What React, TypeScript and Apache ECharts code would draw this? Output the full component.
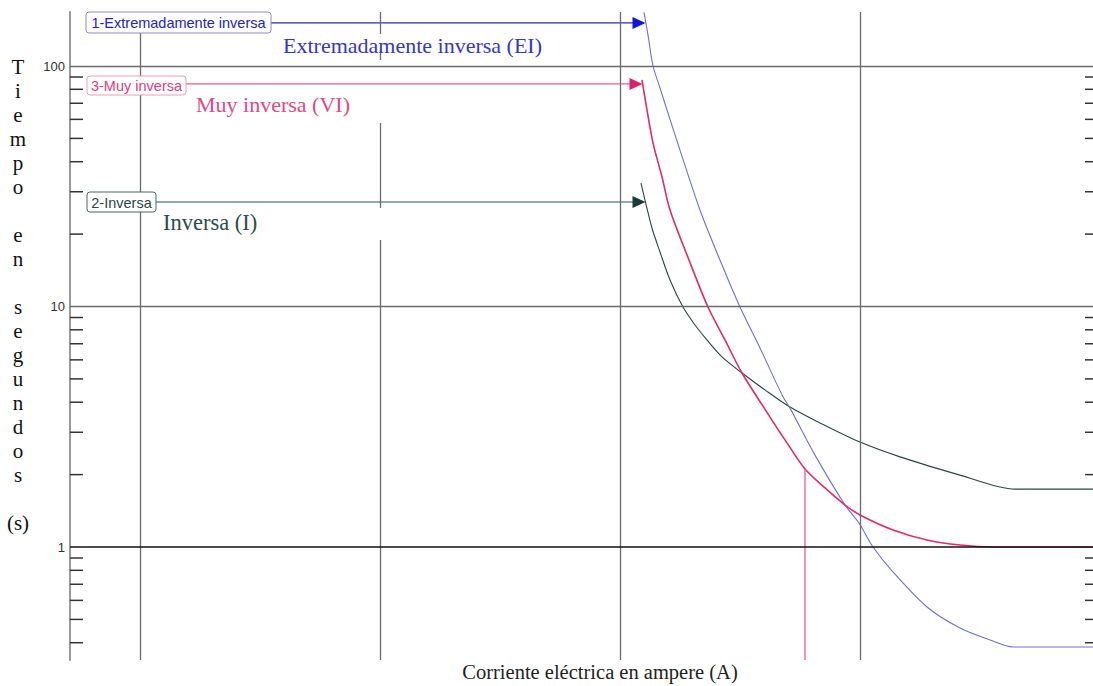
import React, { useEffect, useRef } from "react";
import * as echarts from "echarts";

// Axis extents (current in A, time in s), both logarithmic
const X_MIN = 5.11;
const X_MAX = 93500;
const Y_MIN = 0.339;
const Y_MAX = 167.7;

// Labelled decades on the time axis
const Y_LABELS = [1, 10, 100];
// Minor tick marks on both sides of the plot
const MINOR_TICKS = [0.4, 0.5, 0.6, 0.7, 0.8, 0.9, 2, 3, 4, 5, 6, 7, 8, 9, 20, 30, 40, 50, 60, 70, 80, 90];

// Decade gridlines
const GRID_X_FULL = [10, 1000, 10000];
const GRID_X_BROKEN = 100;
const GRID_X_BROKEN_SEGMENTS: [number, number][] = [
  [167.7, 135.8],
  [116.6, 105.9],
  [57.9, 25.7],
  [18.9, 0.339],
];
const GRID_Y_LIGHT = [10, 100];
const GRID_Y_DARK = 1;

// Curve 1 – extremadamente inversa (EI)
const EI_CURVE: [number, number][] = [
  [1259, 167], [1308, 134.6], [1373, 100], [1468, 81.0], [1570, 65.6],
  [1778, 44.7], [2154, 25.2], [2610, 15.6], [3162, 9.95], [3831, 6.72],
  [4777, 4.21], [5109, 3.78], [6494, 2.41], [8660, 1.495], [9904, 1.258],
  [11330, 1.0], [13730, 0.787], [19020, 0.563], [26100, 0.4604],
  [34810, 0.4106], [43400, 0.3838], [93500, 0.3838],
];

// Curve 3 – muy inversa (VI)
const VI_CURVE: [number, number][] = [
  [1235, 87.5], [1296, 65.6], [1373, 47.8], [1496, 34.6], [1616, 25.2],
  [1939, 15.6], [2326, 9.95], [2738, 7.26], [3224, 5.29], [4217, 3.47],
  [4963, 2.71], [5900, 2.11], [7149, 1.76], [8660, 1.495], [10000, 1.359],
  [13730, 1.177], [19020, 1.069], [26100, 1.019], [35830, 1.0], [93500, 1.0],
];

// Curve 2 – inversa (I)
const I_CURVE: [number, number][] = [
  [1223, 32.6], [1271, 27.7], [1359, 21.2], [1468, 16.85], [1616, 12.89],
  [1830, 9.95], [2054, 8.38], [2304, 7.26], [2661, 6.17], [3224, 5.29],
  [4019, 4.5], [5109, 3.82], [6813, 3.28], [10000, 2.73], [14680, 2.37],
  [26100, 1.99], [44240, 1.74], [93500, 1.74],
];

// Pickup marker on the VI curve
const VI_MARKER_X = 5900;
const VI_MARKER_T = 2.11;

// Legend arrows: [start current, end current, time]
const EI_ARROW = [35.1, 1200, 151];
const VI_ARROW = [15.55, 1166, 84.2];
const I_ARROW = [11.66, 1200, 27.2];

const C_EI = "#7070d2";
const C_VI = "#e02a6c";
const C_I = "#2c4444";

const SANS = '"Liberation Sans", Arial, sans-serif';
const SERIF = '"Liberation Serif", "Times New Roman", serif';

function arrowSeries(arrow: number[], lineColor: string, headColor: string) {
  return {
    type: "line",
    silent: true,
    z: 4,
    showSymbol: true,
    symbol: "none",
    lineStyle: { color: lineColor, width: 1.3 },
    data: [
      [arrow[0], arrow[2]],
      {
        value: [arrow[1], arrow[2]],
        symbol: "triangle",
        symbolSize: [12, 13],
        symbolRotate: -90,
        itemStyle: { color: headColor },
      },
    ],
  };
}

function curveSeries(name: string, data: [number, number][], color: string, width: number) {
  return {
    name,
    type: "line",
    silent: true,
    z: 3,
    showSymbol: false,
    symbol: "none",
    smooth: 0.3,
    lineStyle: { color, width },
    data,
  };
}

function legendBox(x: number, y: number, w: number, h: number, text: string, color: string, border: string) {
  return {
    type: "group",
    z: 100,
    children: [
      {
        type: "rect",
        shape: { x, y, width: w, height: h, r: 3 },
        style: { fill: "#ffffff", stroke: border, lineWidth: 1 },
        z: 100,
      },
      {
        type: "text",
        x: x + w / 2,
        y: y + h / 2 + 0.5,
        z: 101,
        style: { text, fill: color, font: `14.5px ${SANS}`, align: "center", verticalAlign: "middle" },
      },
    ],
  };
}

export default function App() {
  const ref = useRef<HTMLDivElement>(null);

  useEffect(() => {
    if (!ref.current) return;
    const chart = echarts.init(ref.current, null, { renderer: "svg" });

    const gridLine = { color: "#6a6a6a", width: 1.3, type: "solid" };

    chart.setOption({
      animation: false,
      backgroundColor: "#ffffff",
      grid: { left: 70, right: 0, top: 12, bottom: 26, outerBoundsMode: "none" },
      xAxis: {
        type: "log",
        logBase: 10,
        min: X_MIN,
        max: X_MAX,
        axisLine: { show: false },
        axisTick: { show: false },
        axisLabel: { show: false },
        splitLine: { show: false },
      },
      yAxis: {
        type: "log",
        logBase: 10,
        min: Y_MIN,
        max: Y_MAX,
        axisLine: { show: true, lineStyle: { color: "#9a9a9a", width: 2 } },
        axisTick: { show: false },
        splitLine: { show: false },
        axisLabel: {
          show: true,
          showMinLabel: false,
          showMaxLabel: false,
          margin: 5,
          color: "#333333",
          fontFamily: SANS,
          fontSize: 13,
          formatter: (v: number) => {
            const r = Math.round(v * 1000) / 1000;
            return Y_LABELS.includes(r) ? String(r) : "";
          },
        },
      },
      graphic: [
        legendBox(86, 12, 185, 21, "1-Extremadamente inversa", "#2323c4", "#8c8cc8"),
        legendBox(87, 76, 99, 19, "3-Muy inversa", "#e0407c", "#f09ab8"),
        legendBox(87, 192, 69, 20, "2-Inversa", "#2c4646", "#4a6464"),
        {
          type: "text",
          x: 283,
          y: 45,
          z: 100,
          style: { text: "Extremadamente inversa (EI)", fill: "#3636c8", font: `22px ${SERIF}`, align: "left", verticalAlign: "middle" },
        },
        {
          type: "text",
          x: 196,
          y: 104,
          z: 100,
          style: { text: "Muy inversa (VI)", fill: "#e04888", font: `22px ${SERIF}`, align: "left", verticalAlign: "middle" },
        },
        {
          type: "text",
          x: 163,
          y: 222,
          z: 100,
          style: { text: "Inversa (I)", fill: "#2c4c4c", font: `22.5px ${SERIF}`, align: "left", verticalAlign: "middle" },
        },
        {
          type: "text",
          x: 18,
          y: 55,
          z: 100,
          style: {
            text: "T\ni\ne\nm\np\no\n\ne\nn\n\ns\ne\ng\nu\nn\nd\no\ns\n\n(s)",
            fill: "#111111",
            font: `21px ${SERIF}`,
            lineHeight: 24,
            align: "center",
            verticalAlign: "top",
          },
        },
        {
          type: "text",
          x: 600,
          y: 672,
          z: 100,
          style: { text: "Corriente eléctrica en ampere (A)", fill: "#222222", font: `20.5px ${SERIF}`, align: "center", verticalAlign: "middle" },
        },
      ],
      series: [
        {
          type: "line",
          silent: true,
          z: 1,
          data: [],
          markLine: {
            silent: true,
            symbol: "none",
            animation: false,
            label: { show: false },
            lineStyle: gridLine,
            data: [
              ...GRID_X_FULL.map((x) => ({ xAxis: x })),
              ...GRID_X_BROKEN_SEGMENTS.map(([a, b]) => [
                { coord: [GRID_X_BROKEN, a] },
                { coord: [GRID_X_BROKEN, b] },
              ]),
              ...GRID_Y_LIGHT.map((y) => ({ yAxis: y })),
              { yAxis: GRID_Y_DARK, lineStyle: { color: "#111111", width: 1.6, type: "solid" } },
            ],
          },
        },
        {
          type: "custom",
          silent: true,
          z: 2,
          data: MINOR_TICKS.map((t) => [X_MIN, t]),
          renderItem: (params: any, api: any) => {
            const cs = params.coordSys;
            const y = api.coord([api.value(0), api.value(1)])[1];
            const style = { stroke: "#333333", lineWidth: 1.5 };
            return {
              type: "group",
              children: [
                { type: "line", shape: { x1: cs.x, y1: y, x2: cs.x + 13, y2: y }, style },
                { type: "line", shape: { x1: cs.x + cs.width - 8, y1: y, x2: cs.x + cs.width, y2: y }, style },
              ],
            };
          },
        },
        curveSeries("Inversa (I)", I_CURVE, C_I, 1.1),
        curveSeries("Extremadamente inversa (EI)", EI_CURVE, C_EI, 1.1),
        curveSeries("Muy inversa (VI)", VI_CURVE, C_VI, 1.6),
        {
          type: "line",
          silent: true,
          z: 3,
          showSymbol: false,
          symbol: "none",
          lineStyle: { color: "#e85a94", width: 1.3 },
          data: [
            [VI_MARKER_X, VI_MARKER_T],
            [VI_MARKER_X, Y_MIN],
          ],
        },
        arrowSeries(EI_ARROW, "#2a2ab0", "#1414e0"),
        arrowSeries(VI_ARROW, "#ea5c92", "#e01e6a"),
        arrowSeries(I_ARROW, "#6c8c8c", "#1c3a3a"),
      ],
    });

    return () => chart.dispose();
  }, []);

  return (
    <div
      ref={ref}
      style={{ position: "absolute", left: 0, top: 0, width: 1093, height: 686, background: "#ffffff" }}
    />
  );
}
